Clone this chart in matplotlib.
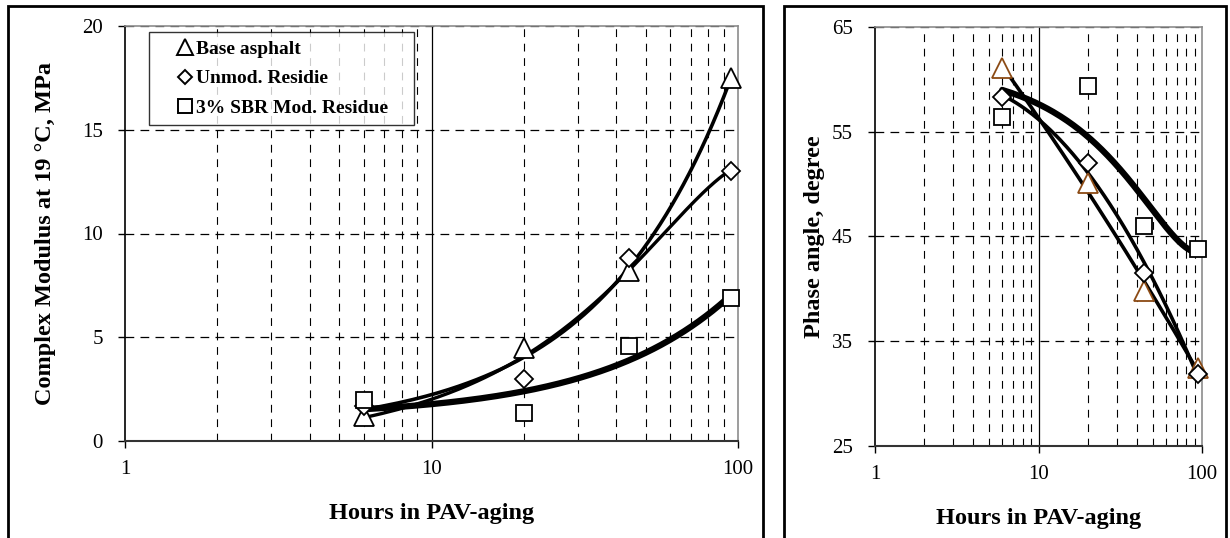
import numpy as np
import matplotlib
matplotlib.use("Agg")
from matplotlib import pyplot as plt
from matplotlib.lines import Line2D
from matplotlib.patches import Rectangle
from matplotlib.ticker import LogLocator, FixedLocator, NullFormatter

plt.rcParams['font.family'] = ['Liberation Serif', 'DejaVu Serif']

hours = [6, 20, 44, 95]

# complex modulus at 19 C, MPa
mod_base = [1.2, 4.5, 8.2, 17.5]
mod_unmod = [1.7, 3.0, 8.8, 13.0]
mod_sbr = [2.0, 1.35, 4.6, 6.9]

# phase angle, degree
ph_base = [61.1, 50.1, 39.8, 32.4]
ph_unmod = [58.3, 52.0, 41.5, 31.9]
ph_sbr = [56.4, 59.4, 46.0, 43.8]

labels = ["Base asphalt", "Unmod. Residie", "3% SBR Mod. Residue"]
brown = '#8B4A14'

fig = plt.figure(figsize=(12.3, 5.38), dpi=100)

# panel frames
W, H = 1230, 538
for x0, x1 in [(8, 763), (784, 1226)]:
    fig.add_artist(Rectangle((x0 / W, -0.05), (x1 - x0) / W, 1.05 - 6 / H,
                             transform=fig.transFigure, fill=False,
                             edgecolor='black', linewidth=2))

ax1 = fig.add_axes([125 / W, 1 - 441 / H, (738 - 125) / W, (441 - 26) / H])
ax2 = fig.add_axes([875 / W, 1 - 446 / H, (1202 - 875) / W, (446 - 27) / H])


def trend(ax, x, y, deg, lw, logx=False):
    xs = np.linspace(min(x), max(x), 200)
    if logx:
        c = np.polyfit(np.log(x), y, deg)
        ys = np.polyval(c, np.log(xs))
    else:
        c = np.polyfit(x, y, deg)
        ys = np.polyval(c, xs)
    ax.plot(xs, ys, color='black', lw=lw, solid_capstyle='round', zorder=3)


def style(ax, ylim, yticks, ylabel, ylabelpad):
    ax.set_xscale('log')
    ax.set_xlim(1, 100)
    ax.set_ylim(*ylim)
    ax.set_yticks(yticks)
    ax.xaxis.set_major_locator(FixedLocator([1, 10, 100]))
    ax.xaxis.set_minor_locator(LogLocator(base=10, subs=np.arange(2, 10)))
    ax.xaxis.set_minor_formatter(NullFormatter())
    ax.set_xticklabels(['1', '10', '100'])
    ax.tick_params(axis='x', which='minor', length=0)
    ax.tick_params(axis='x', which='major', length=5, width=1, direction='out',
                   pad=9, labelsize=15)
    ax.tick_params(axis='y', length=5, width=1, direction='out', labelsize=15, pad=11)
    ax.grid(axis='y', which='major', linestyle=(0, (7, 5)), color='black', lw=0.9)
    ax.grid(axis='x', which='minor', linestyle=(0, (7, 6)), color='black', lw=0.8)
    ax.axvline(10, color='black', lw=0.9, zorder=1)
    for s in ['top', 'right']:
        ax.spines[s].set_color('#8c8c8c')
        ax.spines[s].set_linewidth(1.2)
    ax.spines['left'].set_color('black')
    ax.spines['left'].set_linewidth(1.2)
    ax.spines['bottom'].set_color('#333333')
    ax.spines['bottom'].set_linewidth(1.5)
    ax.set_xlabel("Hours in PAV-aging", fontsize=17.5, fontweight='bold', labelpad=17)
    ax.set_ylabel(ylabel, fontsize=17.5, fontweight='bold', labelpad=ylabelpad)


mk = dict(linestyle='none', markerfacecolor='white', zorder=4, clip_on=False)

# left panel
ax = ax1
style(ax, (0, 20), [0, 5, 10, 15, 20], "Complex Modulus at 19 \u00b0C, MPa", 19)
trend(ax, hours, mod_base, 1, 2.6)
trend(ax, hours, mod_unmod, 2, 2.4)
trend(ax, hours, mod_sbr, 1, 4.5)
ax.plot(hours, mod_base, marker='^', markersize=14, markeredgecolor='black', markeredgewidth=1.3, **mk)
ax.plot(hours, mod_unmod, marker='D', markersize=9, markeredgecolor='black', markeredgewidth=1.3, **mk)
ax.plot(hours, mod_sbr, marker='s', markersize=12, markeredgecolor='black', markeredgewidth=1.3, **mk)

handles = [
    Line2D([], [], linestyle='none', marker='^', markersize=11, markerfacecolor='white', markeredgecolor='black', markeredgewidth=1.4),
    Line2D([], [], linestyle='none', marker='D', markersize=7, markerfacecolor='white', markeredgecolor='black', markeredgewidth=1.4),
    Line2D([], [], linestyle='none', marker='s', markersize=10, markerfacecolor='white', markeredgecolor='black', markeredgewidth=1.4),
]
leg = ax.legend(handles, labels, loc='upper left', bbox_to_anchor=(0.039, 0.0, 0.432, 0.9855),
                mode='expand', prop={'weight': 'bold', 'size': 14}, frameon=True,
                fancybox=False, edgecolor='black', handlelength=2.9,
                handletextpad=-0.9, labelspacing=0.62, borderpad=0.42,
                borderaxespad=0)
leg.get_frame().set_linewidth(1.0)
leg.set_zorder(5)

# right panel
ax = ax2
style(ax, (25, 65), [25, 35, 45, 55, 65], "Phase angle, degree", 5)
trend(ax, hours, ph_base, 2, 2.6, logx=True)
trend(ax, hours, ph_unmod, 2, 2.6, logx=True)
trend(ax, hours, ph_sbr, 2, 4.5)
ax.plot(hours, ph_base, marker='^', markersize=14, markeredgecolor=brown, markeredgewidth=1.3, **mk)
ax.plot(hours, ph_unmod, marker='D', markersize=9, markeredgecolor='black', markeredgewidth=1.3, **mk)
ax.plot(hours, ph_sbr, marker='s', markersize=12, markeredgecolor='black', markeredgewidth=1.3, **mk)

fig.savefig("out.png", dpi=100)
